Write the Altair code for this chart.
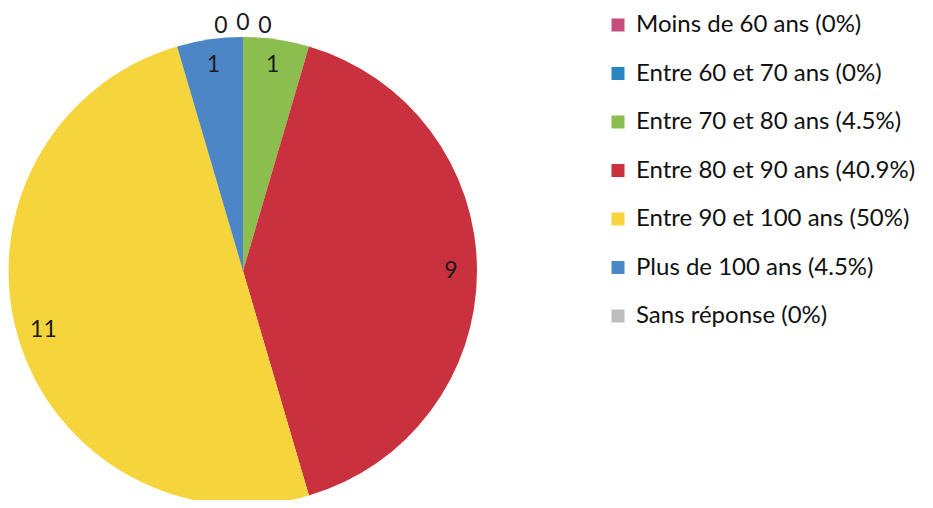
import altair as alt
import pandas as pd

categories = ["Moins de 60 ans", "Entre 60 et 70 ans", "Entre 70 et 80 ans",
              "Entre 80 et 90 ans", "Entre 90 et 100 ans", "Plus de 100 ans", "Sans réponse"]
counts = [0, 0, 1, 9, 11, 1, 0]
percents = ["0%", "0%", "4.5%", "40.9%", "50%", "4.5%", "0%"]
colors = ["#c84b7e", "#2a86c0", "#8cbd4f", "#c8313d", "#f6d43b", "#4d86c6", "#bdbdbd"]

legend_labels = [f"{c} ({p})" for c, p in zip(categories, percents)]
df = pd.DataFrame({
    "cat": legend_labels,
    "value": counts,
    "order": list(range(len(categories))),
})

FONT = "Lato"
FS = 24
CX, CY, R = 235, 263, 234

base = alt.Chart(df).transform_window(
    cum="sum(value)", sort=[alt.SortField("order")], frame=[None, 0]
).transform_joinaggregate(total="sum(value)").transform_calculate(
    start="(datum.cum - datum.value) / datum.total",
    end="datum.cum / datum.total",
    mid="(datum.cum - datum.value / 2) / datum.total",
)

arc = base.mark_arc(radius=R, stroke=None).encode(
    theta=alt.Theta("start:Q", scale=alt.Scale(domain=[0, 1]), stack=None),
    theta2="end:Q",
    color=alt.Color("cat:N", sort=legend_labels,
                    scale=alt.Scale(domain=legend_labels, range=colors),
                    legend=alt.Legend(title=None, orient="none", legendX=598, legendY=5,
                                      symbolType="square", symbolSize=169,
                                      symbolStrokeWidth=0, labelFont=FONT,
                                      labelFontSize=FS, labelColor="#111111",
                                      labelOffset=6, rowPadding=24.5, labelLimit=400)),
    x=alt.value(CX), y=alt.value(CY),
)


def text_layer(filt, radius, dx=0, dy=0, fs=23):
    return base.transform_filter(filt).mark_text(
        radius=radius, font=FONT, fontSize=fs, color="#1a1a1a", dx=dx, dy=dy
    ).encode(
        theta=alt.Theta("mid:Q", scale=alt.Scale(domain=[0, 1]), stack=None),
        text=alt.Text("value:Q"),
        x=alt.value(CX), y=alt.value(CY),
    )

inner = text_layer("datum.value > 0", 208)
z1 = text_layer(f"datum.cat == '{legend_labels[0]}'", 245, dx=-22)
z2 = text_layer(f"datum.cat == '{legend_labels[1]}'", 245, dy=-3)
z3 = text_layer(f"datum.cat == '{legend_labels[6]}'", 245, dx=22)

chart = alt.layer(arc, inner, z1, z2, z3).properties(
    width=917, height=492,
    autosize=alt.AutoSizeParams(type="none"),
    padding=0,
).configure_view(stroke=None)

chart.save("out.html", embed_options={"renderer": "svg", "actions": False})
